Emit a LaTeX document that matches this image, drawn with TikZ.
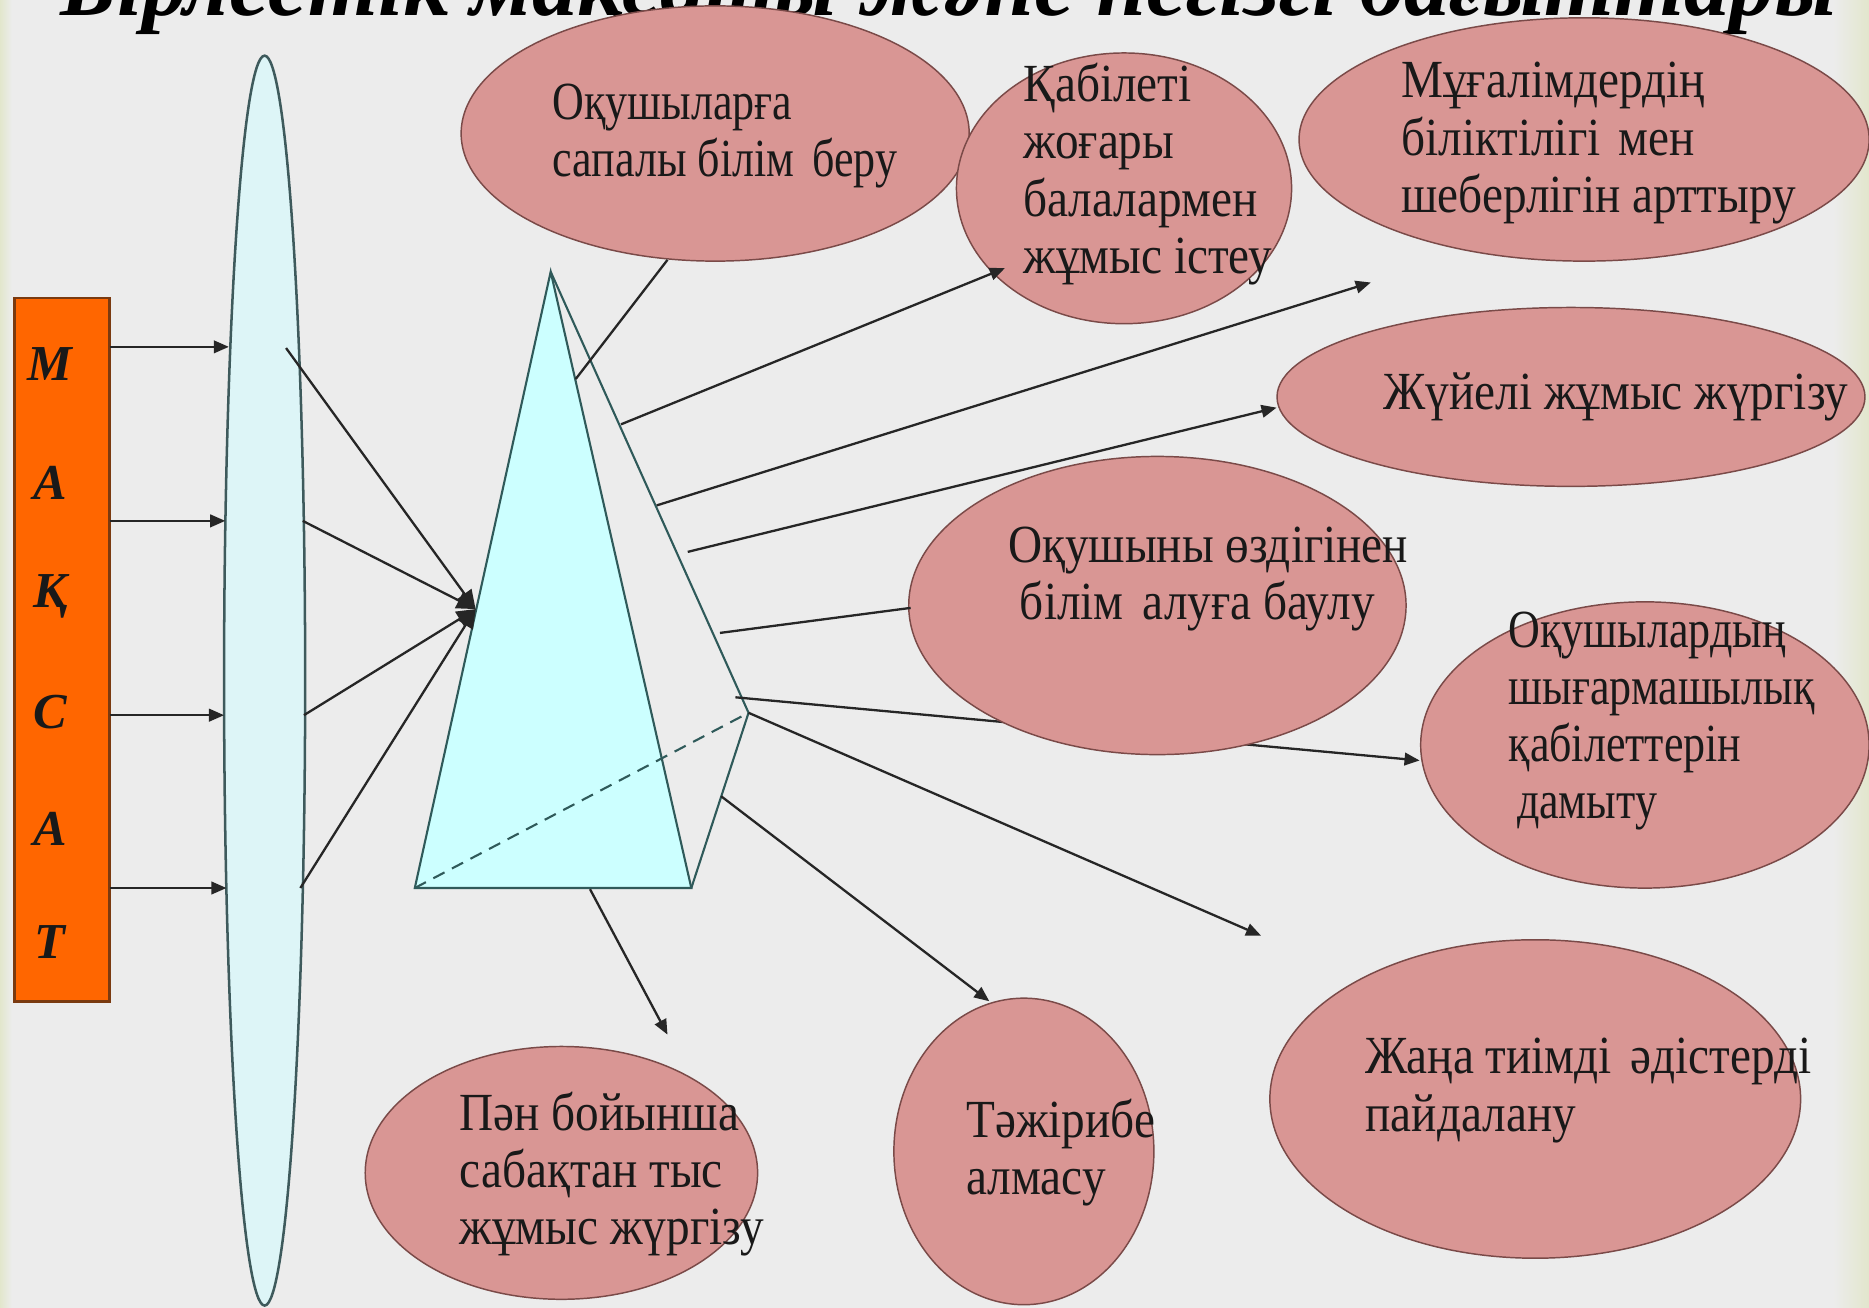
\documentclass[tikz,border=0pt]{standalone}
\usepackage{fontspec}
\setmainfont{Liberation Serif}
\newfontfamily\ellfont{Liberation Serif}[FakeStretch=0.88]
\newfontfamily\ellfontn{Liberation Serif}[FakeStretch=0.82]
\usetikzlibrary{arrows.meta,shapes.geometric}
\definecolor{bg}{HTML}{ECECEC}
\definecolor{ellfill}{HTML}{D99694}
\definecolor{elldraw}{HTML}{7A4A48}
\definecolor{orangefill}{HTML}{FF6600}
\definecolor{orangedraw}{HTML}{7A3A10}
\definecolor{lensfill}{HTML}{DDF5F7}
\definecolor{lensdraw}{HTML}{3E5A5C}
\definecolor{pyrfill}{HTML}{CCFFFF}
\definecolor{pyrdraw}{HTML}{2F5A5A}
\definecolor{edgetint}{HTML}{E2E6CC}
\begin{document}
\begin{tikzpicture}[x=0.01cm,y=-0.01cm,
  ell/.style={ellipse, fill=ellfill, draw=elldraw, line width=0.35pt, inner sep=0pt},
  etext/.style={anchor=west, align=left, font=\ellfont\fontsize{12.8}{13.66}\selectfont, text=black!90, inner sep=0pt},
  etextn/.style={etext, font=\ellfontn\fontsize{12.8}{13.66}\selectfont},
  conn/.style={line width=0.55pt, draw=black!85},
  arr/.style={conn, -{Triangle[length=3.6pt,width=3pt]}},
  blob/.style={conn, -{Triangle[length=4.5pt,width=4pt]}},
  letter/.style={font=\bfseries\itshape\fontsize{12}{13}\selectfont, inner sep=0pt, text=black!90}
]
\useasboundingbox (0,0) rectangle (1568,1097);
\clip (0,0) rectangle (1568,1097);
\fill[bg] (0,0) rectangle (1568,1097);
\shade[left color=bg, right color=edgetint] (1538,0) rectangle (1568,1097);
\shade[left color=edgetint, right color=bg] (0,0) rectangle (10,1097);

% title (cut by the top edge, as in the reference)
\node[anchor=base west, inner sep=0pt] (title) at (50,13)
  {\resizebox{14.89cm}{!}{\bfseries\itshape Бірлестік мақсаты және негізгі бағыттары}};

% goal box
\node[draw=orangedraw, fill=orangefill, line width=0.6pt, minimum width=0.80cm, minimum height=5.90cm, inner sep=0pt] (mak) at (52,545) {};
\node[letter] (l1) at (42,305) {М};
\node[letter] (l2) at (42,405) {А};
\node[letter] (l3) at (42,500) {Қ};
\node[letter] (l4) at (42,597) {С};
\node[letter] (l5) at (42,695) {А};
\node[letter] (l6) at (42,790) {Т};

% lens
\node[ellipse, fill=lensfill, draw=lensdraw, line width=0.6pt, minimum width=0.68cm, minimum height=10.48cm, inner sep=0pt] (lens) at (222,571) {};

% box -> lens
\coordinate (b1) at (92,291);  \coordinate (n1) at (192,291);
\coordinate (b2) at (92,437);  \coordinate (n2) at (189,437);
\coordinate (b3) at (92,600);  \coordinate (n3) at (188,600);
\coordinate (b4) at (92,745);  \coordinate (n4) at (190,745);
\draw[arr] (b1) -- (n1);
\draw[arr] (b2) -- (n2);
\draw[arr] (b3) -- (n3);
\draw[arr] (b4) -- (n4);

% pyramid
\coordinate (pa) at (462,228);
\coordinate (pl) at (348,745);
\coordinate (pr) at (580,745);
\coordinate (pk) at (628,598);
\filldraw[fill=pyrfill, draw=pyrdraw, line width=0.5pt] (pa) -- (pl) -- (pr) -- cycle;
\draw[draw=pyrdraw, line width=0.5pt] (pa) -- (pk) -- (pr);
\draw[draw=pyrdraw, line width=0.5pt, dashed, dash pattern=on 3pt off 2pt] (pl) -- (pk);

% lens -> pyramid
\coordinate (m1) at (240,292);
\coordinate (m2) at (254,437);
\coordinate (m3) at (255,600);
\coordinate (m4) at (252,745);
\coordinate (pt) at (399,511);
\draw[blob] (m1) -- (pt);
\draw[blob] (m2) -- (pt);
\draw[blob] (m3) -- (pt);
\draw[blob] (m4) -- (pt);

% arrow passing under ellipse E
\coordinate (s6) at (617,585); \coordinate (e6) at (1191,638);
\draw[arr] (s6) -- (e6);

% ellipses
\node[ell, minimum width=4.26cm, minimum height=2.14cm] (eA) at (600,112) {};
\node[ell, minimum width=2.81cm, minimum height=2.27cm] (eB) at (943,158) {};
\node[ell, minimum width=4.78cm, minimum height=2.04cm] (eC) at (1329,117) {};
\node[ell, minimum width=4.93cm, minimum height=1.50cm] (eD) at (1318,333) {};
\node[ell, minimum width=4.17cm, minimum height=2.50cm] (eE) at (971,508) {};
\node[ell, minimum width=3.76cm, minimum height=2.40cm] (eF) at (1380,625) {};
\node[ell, minimum width=4.45cm, minimum height=2.67cm] (eG) at (1288,922) {};
\node[ell, minimum width=2.18cm, minimum height=2.57cm] (eH) at (859,966) {};
\node[ell, minimum width=3.29cm, minimum height=2.12cm] (eI) at (471,984) {};

% connectors from pyramid
\coordinate (s1) at (483,318); \coordinate (e1) at (560,218);
\coordinate (s2) at (521,356); \coordinate (e2) at (843,225);
\coordinate (s3) at (551,424); \coordinate (e3) at (1150,237);
\coordinate (s4) at (577,463); \coordinate (e4) at (1071,342);
\coordinate (s5) at (604,531); \coordinate (e5) at (764,510);
\coordinate (e7) at (1058,785);
\coordinate (s8) at (605,668); \coordinate (e8) at (830,840);
\coordinate (s9) at (495,746); \coordinate (e9) at (560,868);
\draw[conn] (s1) -- (e1);
\draw[arr] (s2) -- (e2);
\draw[arr] (s3) -- (e3);
\draw[arr] (s4) -- (e4);
\draw[conn] (s5) -- (e5);
\draw[arr] (pk) -- (e7);
\draw[arr] (s8) -- (e8);
\draw[arr] (s9) -- (e9);

% texts
\node[etextn] (tA) at (463,114) {Оқушыларға\\сапалы білім\hspace{0.06cm} беру};
\node[etext] (tB) at (858,146) {Қабілеті\\жоғары\\балалармен\\жұмыс істеу};
\node[etext] (tC) at (1175,120) {Мұғалімдердің\\біліктілігі\hspace{0.05cm} мен\\шеберлігін арттыру};
\node[etext] (tD) at (1160,333) {Жүйелі жұмыс жүргізу};
\node[etext] (tE) at (845,486) {Оқушыны өздігінен\\\hspace*{0.1cm}білім\hspace{0.06cm} алуға баулу};
\node[etextn] (tF) at (1265,605) {Оқушылардың\\шығармашылық\\қабілеттерін\\\hspace*{0.07cm}дамыту};
\node[etext] (tG) at (1145,915) {Жаңа тиімді\hspace{0.06cm} әдістерді\\пайдалану};
\node[etext] (tH) at (810,967) {Тәжірибе\\алмасу};
\node[etext] (tI) at (385,985) {Пән бойынша\\сабақтан тыс\\жұмыс жүргізу};
\end{tikzpicture}
\end{document}
